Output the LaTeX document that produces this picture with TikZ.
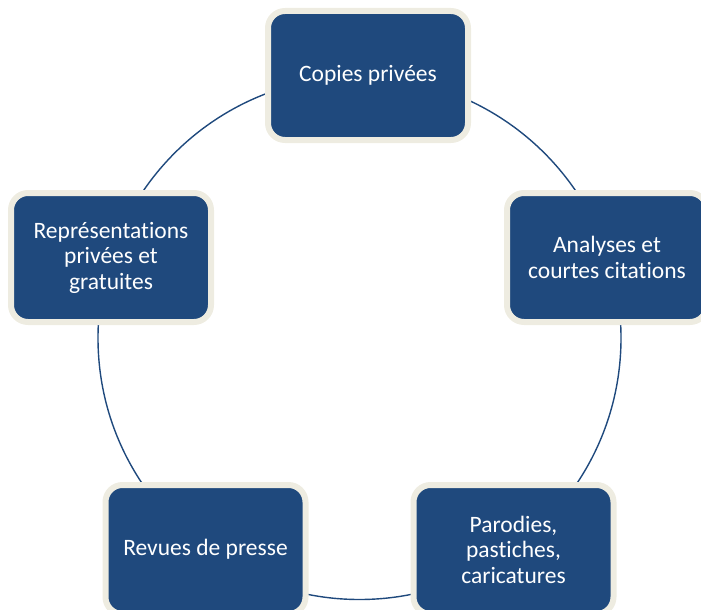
\documentclass[tikz,border=0pt]{standalone}
\usepackage{fontspec}
\setmainfont{Carlito}[Ligatures=NoCommon]
\definecolor{boxblue}{HTML}{1F497D}
\definecolor{cream}{HTML}{EEECE1}
\definecolor{ringblue}{HTML}{1F497D}
\begin{document}
\begin{tikzpicture}[x=1pt,y=-1pt,
  stagebox/.style={draw=cream, line width=6pt, fill=boxblue, rounded corners=17pt,
    minimum width=200pt, minimum height=129pt, text=white, align=center,
    font=\fontsize{23.5}{25.5}\selectfont, inner sep=0pt},
  ring/.style={draw=ringblue, line width=1.4pt}]
\useasboundingbox (0,0) rectangle (701,610);
\begin{scope}
\clip (0,0) rectangle (701,610);
\coordinate (ctr) at (359.5,338);
\draw[ring] (ctr) circle[radius=261.5pt];
\node[stagebox] (top) at (368,75.5) {Copies privées};
\node[stagebox] (right) at (607,257.5) {Analyses et\\courtes citations};
\node[stagebox] (bright) at (513.5,549.5) {Parodies,\\pastiches,\\caricatures};
\node[stagebox] (bleft) at (205.5,549.5) {Revues de presse};
\node[stagebox] (left) at (111,257.5) {Représentations\\privées et\\gratuites};
\end{scope}
\end{tikzpicture}
\end{document}
